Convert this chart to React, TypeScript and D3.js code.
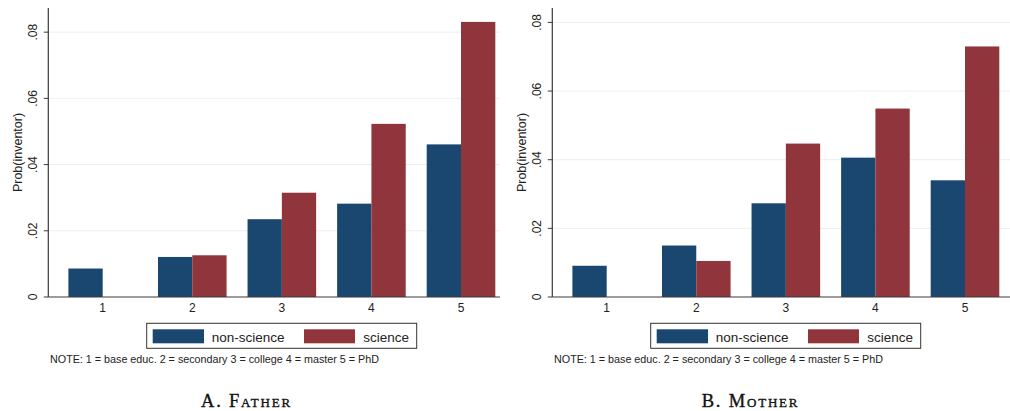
import React from 'react';
import * as d3 from 'd3';

const categories = ['1', '2', '3', '4', '5'];
const seriesNames = ['non-science', 'science'];
const fatherNonScience = [0.0086, 0.0121, 0.0235, 0.0282, 0.0461];
const fatherScience: (number | null)[] = [null, 0.0126, 0.0315, 0.0523, 0.0831];
const motherNonScience = [0.0091, 0.0150, 0.0273, 0.0406, 0.0340];
const motherScience: (number | null)[] = [null, 0.0105, 0.0447, 0.0549, 0.0730];
const yTicks = [0, 0.02, 0.04, 0.06, 0.08];
const yLabel = 'Prob(inventor)';
const noteText = 'NOTE: 1 = base educ. 2 = secondary 3 = college 4 = master 5 = PhD';
const panelTitles = [['A. ', 'F', 'ather'], ['B. ', 'M', 'other']];

const BLUE = '#1a476f';
const RED = '#90353b';
const GRID = '#eaf0f1';
const AXIS = '#3a3a3a';
const SANS = 'Arial, "Liberation Sans", Helvetica, sans-serif';
const SERIF = '"Liberation Serif", "DejaVu Serif", Times, serif';

const fmtTick = (v: number) => (v === 0 ? '0' : d3.format('.2f')(v).replace(/^0/, ''));

interface PanelProps {
  ox: number;
  yMax: number;
  plotRight: number;
  nonSci: (number | null)[];
  sci: (number | null)[];
  title: string[];
}

function Panel({ ox, yMax, plotRight, nonSci, sci, title }: PanelProps) {
  const axisX = ox + 48.3;
  const top = 8;
  const base = 297;
  const y = d3.scaleLinear().domain([0, yMax]).range([base, top]);
  const x = d3.scalePoint<string>().domain(categories).range([ox + 102.7, ox + 461]);
  const barW = 34.3;
  const legX = ox + 146.7;
  return (
    <g>
      {yTicks.map((t) => (
        <g key={t}>
          {t !== 0 && (
            <line x1={axisX} x2={plotRight} y1={y(t)} y2={y(t)} stroke={GRID} strokeWidth={1} />
          )}
          <line x1={axisX - 4.5} x2={axisX} y1={y(t)} y2={y(t)} stroke={AXIS} strokeWidth={1} />
          <text
            transform={`translate(${ox + 36.5},${y(t)}) rotate(-90)`}
            textAnchor="middle"
            fontFamily={SANS}
            fontSize={12}
            fill="#222"
          >
            {fmtTick(t)}
          </text>
        </g>
      ))}
      {categories.map((c, i) => {
        const cx = x(c) as number;
        const a = nonSci[i];
        const b = sci[i];
        return (
          <g key={c}>
            {a != null && (
              <rect x={cx - barW} y={y(a)} width={barW} height={base - y(a)} fill={BLUE} />
            )}
            {b != null && (
              <rect x={cx} y={y(b)} width={barW} height={base - y(b)} fill={RED} />
            )}
            <text x={cx} y={312} textAnchor="middle" fontFamily={SANS} fontSize={12} fill="#222">
              {c}
            </text>
          </g>
        );
      })}
      <line x1={axisX} x2={axisX} y1={top} y2={base} stroke={AXIS} strokeWidth={1.2} />
      <line x1={axisX} x2={plotRight} y1={base} y2={base} stroke={AXIS} strokeWidth={1.2} />
      <text
        transform={`translate(${ox + 22},${(top + base) / 2}) rotate(-90)`}
        textAnchor="middle"
        fontFamily={SANS}
        fontSize={12.5}
        fill="#222"
      >
        {yLabel}
      </text>
      {/* legend */}
      <rect x={legX} y={323.3} width={270} height={25} fill="white" stroke="#333" strokeWidth={1} />
      <rect x={legX + 6} y={329.3} width={51.3} height={14} fill={BLUE} />
      <text x={legX + 65} y={341.5} fontFamily={SANS} fontSize={13.5} fill="#222">
        {seriesNames[0]}
      </text>
      <rect x={legX + 157.3} y={329.3} width={51} height={14} fill={RED} />
      <text x={legX + 216.6} y={341.5} fontFamily={SANS} fontSize={13.5} fill="#222">
        {seriesNames[1]}
      </text>
      <text x={ox + 50} y={362.5} fontFamily={SANS} fontSize={10.75} fill="#222">
        {noteText}
      </text>
      <text
        x={ox + 246.5}
        y={406.7}
        textAnchor="middle"
        fontFamily={SERIF}
        fontSize={18.5}
        letterSpacing={1.8}
        fill="#111"
        stroke="#111"
        strokeWidth={0.35}
      >
        {title[0]}
        {title[1]}
        <tspan fontVariant="small-caps">{title[2]}</tspan>
      </text>
    </g>
  );
}

export default function App() {
  return (
    <svg
      width={1010}
      height={411}
      viewBox="0 0 1010 411"
      style={{ position: 'absolute', left: 0, top: 0, background: 'white' }}
    >
      <rect x={0} y={0} width={1010} height={411} fill="white" />
      <Panel ox={0} yMax={0.0873} plotRight={500} nonSci={fatherNonScience} sci={fatherScience} title={panelTitles[0]} />
      <Panel ox={504} yMax={0.0842} plotRight={1010} nonSci={motherNonScience} sci={motherScience} title={panelTitles[1]} />
    </svg>
  );
}
